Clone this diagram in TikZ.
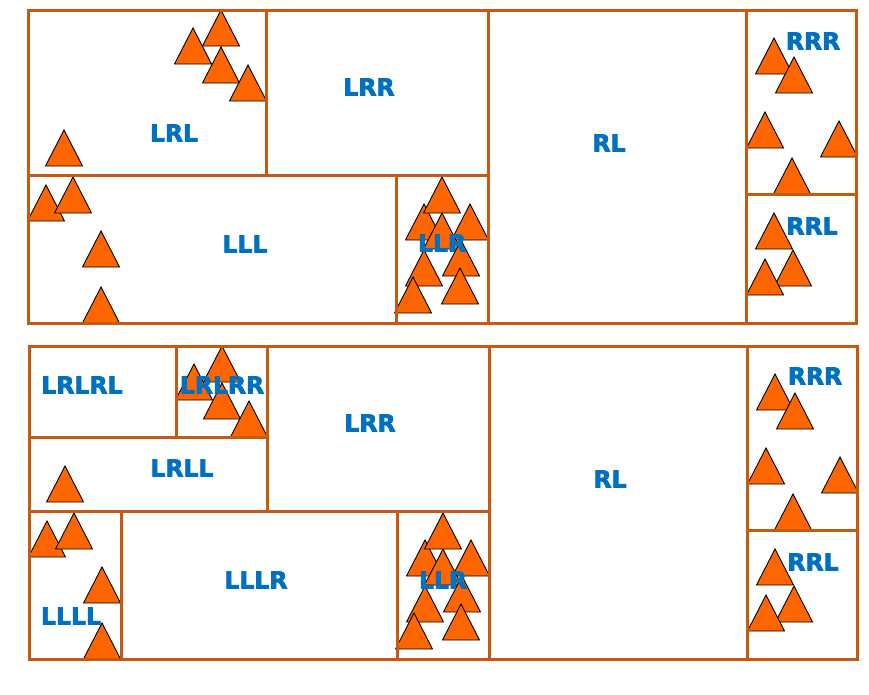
\documentclass[tikz,border=0pt]{standalone}
\usepackage{fontspec}
\setmainfont{DejaVu Sans}
\newfontfamily\regionfont{DejaVu Sans Bold}[FakeBold=3]
\usetikzlibrary{positioning}
\definecolor{kdEdge}{HTML}{C55A11}
\definecolor{kdTri}{HTML}{FF6600}
\definecolor{kdBlue}{HTML}{0070C0}
\tikzset{
  cell/.style={draw=kdEdge, line width=3pt},
  tri/.style={fill=kdTri, draw=black, line width=0.9pt},
  region/.style={font=\fontsize{23.5}{28}\regionfont, text=kdBlue, inner sep=0pt},
}
\newcommand{\pts}{221/10,193/28,221/47,248/65,64/130,
  46/185,73/177,101/231,101/287,
  424/204,470/204,442/213,442/177,461/240,424/250,460/268,413/277,
  774/38,794/57,765/112,839/121,792/158,774/213,793/250,765/259}

\begin{document}
\begin{tikzpicture}[x=1pt,y=-1pt]
        \useasboundingbox (0,0) rectangle (869,694);
        % both panels: common splits and points
        \foreach \dx/\dy in {0/0,1/336}{
          \begin{scope}[shift={(\dx,\dy)}]
            \foreach \x/\y in \pts{
              \draw[tri] (\x,\y) -- ++(18.5,36) -- ++(-37,0) -- cycle;}
            \draw[cell] (28,10) rectangle (856,323);
            \draw[cell] (488,10) -- (488,323);
            \draw[cell] (746,10) -- (746,323);
            \draw[cell] (746,194) -- (856,194);
            \draw[cell] (28,175) -- (488,175);
            \draw[cell] (266,10) -- (266,175);
            \draw[cell] (396,175) -- (396,323);
          \end{scope}}
        % extra splits, lower panel
        \draw[cell] (28,437) -- (267,437);
        \draw[cell] (176,346) -- (176,437);
        \draw[cell] (121,511) -- (121,659);
        % labels, upper panel
        \node[region] (lrl) at (174,133) {LRL};
        \node[region] (lrr) at (369,87) {LRR};
        \node[region] (rl) at (609,143) {RL};
        \node[region] (lll) at (245,244) {LLL};
        \node[region] (llr) at (442,243) {LLR};
        \node[region] (rrr) at (813,41) {RRR};
        \node[region] (rrl) at (812,226) {RRL};
        % labels, lower panel
        \node[region] (lrlrl) at (82,385) {LRLRL};
        \node[region] (lrlrr) at (222,385) {LRLRR};
        \node[region] (lrll) at (182,468) {LRLL};
        \node[region] (lrr2) at (370,423) {LRR};
        \node[region] (rl2) at (610,479) {RL};
        \node[region] (lllr) at (256,580) {LLLR};
        \node[region] (llll) at (71,616) {LLLL};
        \node[region] (llr2) at (443,580) {LLR};
        \node[region] (rrr2) at (815,376) {RRR};
        \node[region] (rrl2) at (813,562) {RRL};
      \end{tikzpicture}
\end{document}
